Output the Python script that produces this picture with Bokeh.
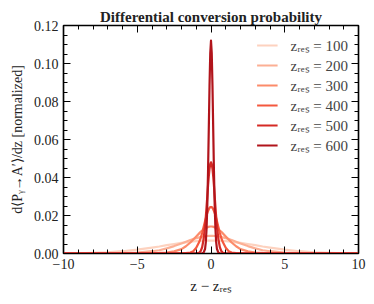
from bokeh.plotting import figure
from bokeh.models import (Range1d, SingleIntervalTicker, LinearAxis, Legend,
                          LegendItem, NumeralTickFormatter, CustomJSTickFormatter)
from bokeh.embed import file_html
from bokeh.resources import INLINE

# ---- data (profiles are symmetric about z - z_res = 0) ----
z_half = [0, 0.05, 0.1, 0.15, 0.2, 0.25, 0.3, 0.35, 0.4, 0.5, 0.6, 0.7, 0.8,
          1.0, 1.2, 1.4, 1.7, 2.0, 2.5, 3.0, 3.5, 4.0, 5.0, 6.0, 7.0, 8.0, 9.0, 10.0]

p100 = [0.0068, 0.0068, 0.0068, 0.0068, 0.0068, 0.0068, 0.0068, 0.0068, 0.0067,
        0.0067, 0.0067, 0.0066, 0.0066, 0.0065, 0.0064, 0.0062, 0.0059, 0.0056,
        0.0050, 0.0044, 0.0037, 0.0031, 0.0020, 0.0012, 0.0006, 0.0003, 0.0001, 0.0]
p200 = [0.0093, 0.0093, 0.0093, 0.0093, 0.0092, 0.0092, 0.0092, 0.0091, 0.0091,
        0.0090, 0.0088, 0.0087, 0.0085, 0.0081, 0.0076, 0.0071, 0.0062, 0.0053,
        0.0039, 0.0027, 0.0017, 0.0012, 0.0005, 0.0002, 0.0001, 0.0, 0.0, 0.0]
p300 = [0.0142, 0.0142, 0.0141, 0.0141, 0.0139, 0.0138, 0.0136, 0.0134, 0.0132,
        0.0127, 0.0121, 0.0114, 0.0106, 0.0090, 0.0074, 0.0058, 0.0038, 0.0023,
        0.0011, 0.0005, 0.0003, 0.0002, 0.0001, 0.0, 0.0, 0.0, 0.0, 0.0]
p400 = [0.0245, 0.0244, 0.0240, 0.0233, 0.0224, 0.0213, 0.0200, 0.0186, 0.0171,
        0.0139, 0.0108, 0.0081, 0.0060, 0.0030, 0.0012, 0.0005, 0.0002, 0.0001,
        0.0, 0.0, 0.0, 0.0, 0.0, 0.0, 0.0, 0.0, 0.0, 0.0]
p500 = [0.0480, 0.0471, 0.0446, 0.0406, 0.0357, 0.0302, 0.0247, 0.0194, 0.0147,
        0.0076, 0.0033, 0.0013, 0.0004, 0.0001, 0.0, 0.0, 0.0, 0.0,
        0.0, 0.0, 0.0, 0.0, 0.0, 0.0, 0.0, 0.0, 0.0, 0.0]
p600 = [0.1120, 0.1055, 0.0883, 0.0656, 0.0433, 0.0254, 0.0132, 0.0061, 0.0025,
        0.0004, 0.0001, 0.0, 0.0, 0.0, 0.0, 0.0, 0.0, 0.0,
        0.0, 0.0, 0.0, 0.0, 0.0, 0.0, 0.0, 0.0, 0.0, 0.0]

z_res_values = [100, 200, 300, 400, 500, 600]
profiles = [p100, p200, p300, p400, p500, p600]
colors = ["#fdd2bf", "#fcaf94", "#fc8b6a", "#f4583e", "#d52a25", "#b1141b"]

x_ticks_labels = {-10: "\u221210", -5: "\u22125", 0: "0", 5: "5", 10: "10"}

SERIF = "Liberation Serif"

p = figure(width=370, height=300, output_backend="svg", toolbar_location=None,
           x_range=Range1d(-10, 10), y_range=Range1d(0, 0.12),
           min_border_left=63, min_border_right=12, min_border_top=25,
           min_border_bottom=47, title="Differential conversion probability")
p.title.text_font = SERIF
p.title.text_font_style = "bold"
p.title.text_font_size = "15px"
p.title.align = "center"
p.title.standoff = 2
p.title.text_color = "#222222"
p.xgrid.visible = False
p.ygrid.visible = False
p.outline_line_color = "black"
p.outline_line_width = 1.5

def x_full(h):
    return [-v for v in reversed(h[1:])] + list(h)

def y_full(h):
    return list(reversed(h[1:])) + list(h)

items = []
for zr, prof, col in zip(z_res_values, profiles, colors):
    r = p.line(x_full(z_half), y_full(prof), line_color=col, line_width=2.2,
               line_join="round")
    items.append(LegendItem(label=f"z\u1d63\u2091\u209b = {zr}", renderers=[r]))

def style_axis(ax, show_labels):
    ax.axis_line_color = "black"
    ax.axis_line_width = 1.2
    ax.major_tick_in = 7
    ax.major_tick_out = 0
    ax.minor_tick_in = 4
    ax.minor_tick_out = 0
    ax.major_tick_line_color = "black"
    ax.minor_tick_line_color = "black"
    ax.major_label_text_font = SERIF
    ax.major_label_text_font_size = "14px"
    ax.major_label_text_color = "#222222"
    if not show_labels:
        ax.formatter = CustomJSTickFormatter(code="return ''")
        ax.major_label_standoff = 0

xt = SingleIntervalTicker(interval=5, num_minor_ticks=5)
yt = SingleIntervalTicker(interval=0.02, num_minor_ticks=4)

p.xaxis.ticker = xt
p.xaxis.major_label_overrides = x_ticks_labels
p.xaxis.axis_label = "z \u2212 z\u1d63\u2091\u209b"
p.xaxis.axis_label_text_font = SERIF
p.xaxis.axis_label_text_font_style = "normal"
p.xaxis.axis_label_text_font_size = "15px"
p.xaxis.axis_label_text_color = "#222222"
p.xaxis.axis_label_standoff = 6
p.xaxis.major_label_standoff = 5
style_axis(p.xaxis[0], True)

p.yaxis.ticker = yt
p.yaxis.formatter = NumeralTickFormatter(format="0.00")
p.yaxis.axis_label = "d\u27e8P\u1d67\u2192A\u2032\u27e9/dz [normalized]"
p.yaxis.axis_label_text_font = SERIF
p.yaxis.axis_label_text_font_style = "normal"
p.yaxis.axis_label_text_font_size = "14px"
p.yaxis.axis_label_text_color = "#222222"
p.yaxis.axis_label_standoff = 6
p.yaxis.major_label_standoff = 5
style_axis(p.yaxis[0], True)

top_ax = LinearAxis(ticker=SingleIntervalTicker(interval=5, num_minor_ticks=5))
style_axis(top_ax, False)
p.add_layout(top_ax, "above")
right_ax = LinearAxis(ticker=SingleIntervalTicker(interval=0.02, num_minor_ticks=4))
style_axis(right_ax, False)
p.add_layout(right_ax, "right")

legend = Legend(items=items, location="top_right", border_line_color=None,
                background_fill_alpha=0, glyph_width=21, glyph_height=20,
                label_standoff=13, spacing=0, padding=0, margin=10,
                label_text_font=SERIF, label_text_font_size="15px",
                label_text_color="#444444", label_height=20)
p.add_layout(legend)

open("out.html", "w").write(file_html(p, INLINE))
